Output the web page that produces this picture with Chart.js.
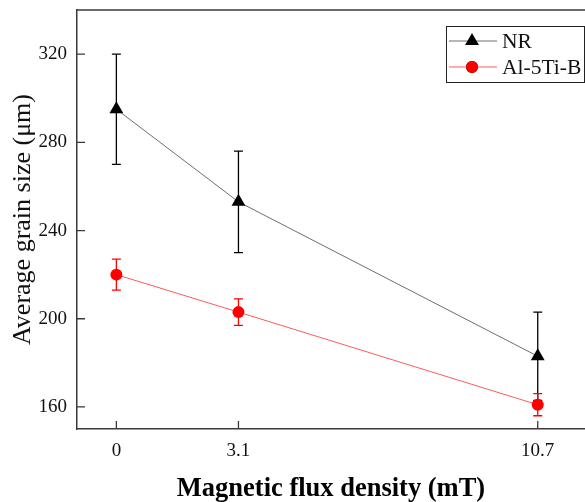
<!DOCTYPE html>
<html>
<head>
<meta charset="utf-8">
<script src="https://cdn.jsdelivr.net/npm/chart.js@4.4.1/dist/chart.umd.min.js"></script>
<style>
  html, body { margin: 0; padding: 0; background: #fff; }
  canvas { display: block; }
</style>
</head>
<body>
<canvas id="grain-chart" width="585" height="502"></canvas>
<script>
// data
var fluxDensity = [0, 3.1, 10.7];          // mT
var nrMean = [295, 253, 183];              // um
var nrErr = [25, 23, 20];
var alMean = [220, 203, 161];
var alErr = [7, 6, 5];
var yTicks = [160, 200, 240, 280, 320];
var seriesNames = ['NR', 'Al-5Ti-B'];
var errs = [nrErr, alErr];

var serif = "'Liberation Serif', 'Times New Roman', serif";
var axisColor = '#3a3a3a';

function toPoints(xs, ys) {
  var out = [];
  for (var i = 0; i < xs.length; i++) out.push({x: xs[i], y: ys[i]});
  return out;
}

// error bars, inward ticks, top frame and the boxed legend
var decorations = {
  id: 'decorations',
  beforeDatasetsDraw: function(chart) {
    var ctx = chart.ctx;
    var xs = chart.scales.x, ys = chart.scales.y;
    chart.data.datasets.forEach(function(ds, di) {
      ctx.save();
      ctx.strokeStyle = ds.pointBackgroundColor;
      ctx.lineWidth = 1.3;
      ds.data.forEach(function(p, i) {
        var px = xs.getPixelForValue(p.x);
        var top = ys.getPixelForValue(p.y + errs[di][i]);
        var bot = ys.getPixelForValue(p.y - errs[di][i]);
        ctx.beginPath();
        ctx.moveTo(px, top); ctx.lineTo(px, bot);
        ctx.moveTo(px - 4.5, top); ctx.lineTo(px + 4.5, top);
        ctx.moveTo(px - 4.5, bot); ctx.lineTo(px + 4.5, bot);
        ctx.stroke();
      });
      ctx.restore();
    });
  },
  afterDraw: function(chart) {
    var ctx = chart.ctx;
    var a = chart.chartArea;
    var xs = chart.scales.x, ys = chart.scales.y;
    ctx.save();
    ctx.strokeStyle = axisColor;
    ctx.lineWidth = 1.5;
    // top frame line
    ctx.beginPath();
    ctx.moveTo(a.left, a.top); ctx.lineTo(a.right, a.top);
    ctx.stroke();
    // inward tick marks
    ctx.lineWidth = 1.3;
    ctx.beginPath();
    yTicks.forEach(function(v) {
      var py = ys.getPixelForValue(v);
      ctx.moveTo(a.left, py); ctx.lineTo(a.left + 8, py);
    });
    fluxDensity.forEach(function(v) {
      var px = xs.getPixelForValue(v);
      ctx.moveTo(px, a.bottom); ctx.lineTo(px, a.bottom - 8);
    });
    ctx.stroke();

    // legend box
    var bx = 446, by = 26, bw = 138, bh = 56;
    ctx.fillStyle = '#fff';
    ctx.fillRect(bx, by, bw, bh);
    ctx.strokeStyle = '#222';
    ctx.lineWidth = 1;
    ctx.strokeRect(bx + 0.5, by + 0.5, bw, bh);
    chart.data.datasets.forEach(function(ds, di) {
      var ry = by + 15 + di * 26;
      ctx.strokeStyle = ds.borderColor;
      ctx.lineWidth = 1;
      ctx.beginPath();
      ctx.moveTo(bx + 3, ry); ctx.lineTo(bx + 51, ry);
      ctx.stroke();
      Chart.helpers.drawPoint(ctx, {
        pointStyle: ds.pointStyle, radius: ds.pointRadius, borderWidth: 0, rotation: 0
      }, bx + 26, ry);
      ctx.fillStyle = ds.pointBackgroundColor;
      ctx.fill();
      ctx.fillStyle = '#111';
      ctx.font = '21.5px ' + serif;
      ctx.textBaseline = 'middle';
      ctx.textAlign = 'left';
      ctx.fillText(seriesNames[di], bx + 56, ry + 1);
    });
    ctx.restore();
  }
};

new Chart(document.getElementById('grain-chart'), {
  type: 'line',
  data: {
    datasets: [{
      label: seriesNames[0],
      data: toPoints(fluxDensity, nrMean),
      borderColor: '#6e6e6e',
      borderWidth: 1,
      pointStyle: 'triangle',
      pointRadius: 8,
      pointBackgroundColor: '#000',
      pointBorderColor: '#000',
      pointBorderWidth: 0,
      tension: 0
    }, {
      label: seriesNames[1],
      data: toPoints(fluxDensity, alMean),
      borderColor: '#ff5a5a',
      borderWidth: 1,
      pointStyle: 'circle',
      pointRadius: 6,
      pointBackgroundColor: '#ff0000',
      pointBorderColor: '#ff0000',
      pointBorderWidth: 0,
      tension: 0
    }]
  },
  options: {
    responsive: false,
    animation: false,
    layout: { autoPadding: false, padding: { top: 10, right: 0, left: 0, bottom: 0 } },
    plugins: { legend: { display: false }, tooltip: { enabled: false } },
    scales: {
      x: {
        type: 'linear',
        min: -1,
        max: 11.9,
        grid: { display: false, drawTicks: false },
        border: { display: true, color: axisColor, width: 1.5 },
        afterBuildTicks: function(scale) {
          scale.ticks = fluxDensity.map(function(v) { return {value: v}; });
        },
        afterFit: function(scale) {
          scale.height = 73;
          scale.paddingLeft = 0;
          scale.paddingRight = 0;
        },
        ticks: {
          autoSkip: false,
          maxRotation: 0,
          padding: 11,
          color: '#111',
          font: { family: serif, size: 19 },
          callback: function(v) { return String(v); }
        },
        title: {
          display: true,
          text: 'Magnetic flux density (mT)',
          color: '#000',
          font: { family: serif, size: 26.5, weight: 'bold', lineHeight: 1.0 },
          padding: { top: 0, bottom: 0 }
        }
      },
      y: {
        min: 150,
        max: 340,
        grid: { display: false, drawTicks: false },
        border: { display: true, color: axisColor, width: 1.5 },
        afterBuildTicks: function(scale) {
          scale.ticks = yTicks.map(function(v) { return {value: v}; });
        },
        afterFit: function(scale) {
          scale.width = 77;
          scale.paddingTop = 0;
          scale.paddingBottom = 0;
        },
        ticks: {
          padding: 10,
          color: '#111',
          font: { family: serif, size: 19 }
        },
        title: {
          display: true,
          text: 'Average grain size (\u03bcm)',
          color: '#111',
          font: { family: serif, size: 26 },
          padding: { top: 8, bottom: 0 }
        }
      }
    }
  },
  plugins: [decorations]
});
</script>
</body>
</html>
